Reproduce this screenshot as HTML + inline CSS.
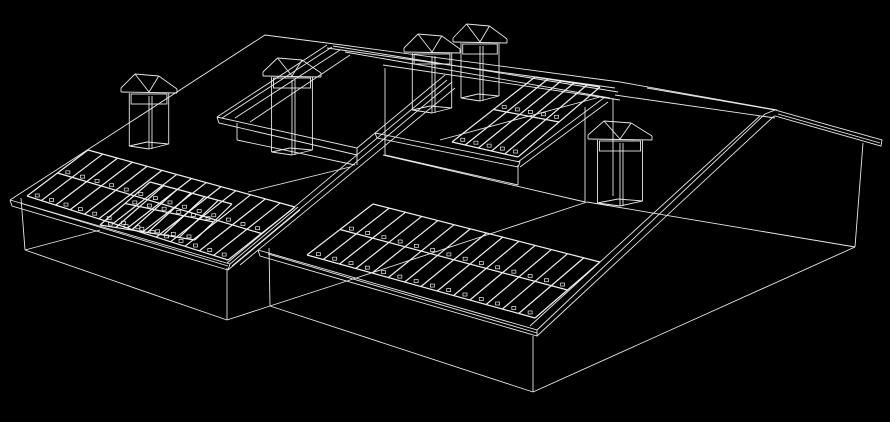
<!DOCTYPE html>
<html><head><meta charset="utf-8"><style>
html,body{margin:0;padding:0;background:#000;width:890px;height:422px;overflow:hidden}
svg{display:block}
</style></head><body>
<svg id="s" width="890" height="422" viewBox="0 0 890 422" xmlns="http://www.w3.org/2000/svg">
<rect width="890" height="422" fill="#000"/>
<g id="g" stroke="#e8e8e8" stroke-width="0.9" fill="none">
<!-- left building -->
<polyline points="10,200 265,35 327,43"/>
<polyline points="10,200 12,206 228,270 230,264 10,200"/>
<polyline points="230,264 298,207"/>
<polyline points="228,270 300,210"/>
<line x1="20" y1="203" x2="228" y2="266"/>
<line x1="21" y1="198" x2="25" y2="250"/>
<line x1="25" y1="250" x2="227" y2="320"/>
<line x1="227" y1="268" x2="227" y2="320"/>
<line x1="25" y1="250" x2="100" y2="230"/>
<line x1="248" y1="192" x2="350" y2="167"/>
<line x1="227" y1="320" x2="270" y2="306"/>
<!-- main building -->
<polyline points="258,250 260,256 537,336 537,330 258,250"/>
<line x1="268" y1="254" x2="537" y2="333"/>
<line x1="269" y1="248" x2="270" y2="306"/>
<line x1="270" y1="306" x2="533" y2="392"/>
<line x1="533" y1="336" x2="533" y2="392"/>
<line x1="533" y1="392" x2="855" y2="247"/>
<line x1="855" y1="247" x2="863" y2="143"/>
<line x1="537" y1="330" x2="765" y2="114"/>
<line x1="537" y1="336" x2="773" y2="117"/>
<line x1="530" y1="326" x2="760" y2="116"/>
<polyline points="765,114 775,110 882,140 881,146 775,116 773,117"/>
<line x1="778" y1="114" x2="880" y2="143"/>
<line x1="620" y1="82" x2="777" y2="110"/>
<line x1="647" y1="88" x2="775" y2="110"/>
<line x1="615" y1="95" x2="775" y2="118"/>
<line x1="587" y1="202" x2="855" y2="247"/>
<line x1="585" y1="107" x2="585" y2="202"/>
<line x1="613" y1="98" x2="613" y2="196"/>
<line x1="383" y1="155" x2="585" y2="202"/>
<line x1="350" y1="280" x2="587" y2="202"/>
<line x1="270" y1="306" x2="350" y2="280"/>
<!-- ridge lines -->
<line x1="327" y1="43" x2="620" y2="82"/>
<line x1="327" y1="48" x2="615" y2="88"/>
<line x1="333" y1="46" x2="618" y2="92"/>
<line x1="345" y1="52" x2="610" y2="98"/>
<!-- front upper block -->
<polyline points="217,117 219,123 357,155 357,148 217,117"/>
<line x1="217" y1="117" x2="327" y2="45"/>
<line x1="222" y1="118" x2="332" y2="47"/>
<line x1="235" y1="118" x2="340" y2="50"/>
<line x1="250" y1="122" x2="350" y2="55"/>
<line x1="237" y1="123" x2="237" y2="140"/>
<line x1="237" y1="140" x2="355" y2="165"/>
<line x1="357" y1="150" x2="357" y2="165"/>
<line x1="357" y1="148" x2="445" y2="75"/>
<!-- valley -->
<line x1="227" y1="263" x2="447" y2="80"/>
<line x1="232" y1="266" x2="452" y2="82"/>
<line x1="240" y1="265" x2="455" y2="88"/>
<!-- second block -->
<polyline points="375,133 377,138 518,167 520,162 375,133"/>
<line x1="385" y1="68" x2="385" y2="155"/>
<line x1="385" y1="155" x2="518" y2="185"/>
<line x1="518" y1="165" x2="518" y2="185"/>
<line x1="518" y1="162" x2="605" y2="97"/>
<line x1="520" y1="167" x2="608" y2="102"/>
<line x1="440" y1="140" x2="600" y2="97"/>
<line x1="383" y1="65" x2="620" y2="100"/>
</g>
<g id="p" stroke="#f0f0f0" stroke-width="1.2" fill="none"></g>
<g id="c" stroke="#e8e8e8" stroke-width="0.9" fill="none"></g>
</svg>
<script>
var NS="http://www.w3.org/2000/svg";
function L(g,a,b){var l=document.createElementNS(NS,"line");l.setAttribute("x1",a[0]);l.setAttribute("y1",a[1]);l.setAttribute("x2",b[0]);l.setAttribute("y2",b[1]);g.appendChild(l);}
function lerp(a,b,t){return [a[0]+(b[0]-a[0])*t,a[1]+(b[1]-a[1])*t];}
function panel(TL,TR,BR,BL,cols){
 var g=document.getElementById("p");
 L(g,TL,TR);L(g,TR,BR);L(g,BR,BL);L(g,BL,TL);
 L(g,lerp(TL,BL,.5),lerp(TR,BR,.5));
 for(var i=1;i<cols;i++){var t=i/cols;L(g,lerp(TL,TR,t),lerp(BL,BR,t));}
 for(var r=0;r<2;r++){for(var i=0;i<cols;i++){var t=(i+.5)/cols;var s=r==0?.45:.95;
  var p=lerp(lerp(TL,TR,t),lerp(BL,BR,t),s);var rc=document.createElementNS(NS,"rect");
  rc.setAttribute("x",p[0]-2);rc.setAttribute("y",p[1]-2);rc.setAttribute("width",4);rc.setAttribute("height",3);rc.setAttribute("stroke-width","0.7");g.appendChild(rc);}}
}
panel([88,150],[295,207],[228,260],[27,196],14);
panel([150,182],[232,204],[195,240],[100,225],6);
panel([373,204],[600,262],[535,318],[307,255],14);
panel([535,77],[600,87],[518,157],[452,142],5);
function chim(cx,cy,w,h){
 var g=document.getElementById("c");var hw=w/2;
 var pts=[[cx-hw,cy],[cx-hw*0.5,cy-14],[cx+hw*0.35,cy-12],[cx+hw,cy+1]];
 L(g,pts[0],pts[1]);L(g,pts[1],pts[2]);L(g,pts[2],pts[3]);
 L(g,[cx-hw,cy],[cx-hw,cy+4]);L(g,[cx-hw,cy+4],[cx+hw,cy+5]);L(g,[cx+hw,cy+1],[cx+hw,cy+5]);
 L(g,pts[1],[cx,cy+4]);L(g,pts[2],[cx,cy+4]);
 var sw=w*0.32;
 var r=document.createElementNS(NS,"rect");r.setAttribute("x",cx-sw);r.setAttribute("y",cy+6);r.setAttribute("width",sw*2);r.setAttribute("height",10);g.appendChild(r);
 L(g,[cx-sw*1.1,cy+5],[cx-sw*1.1,cy+h]);L(g,[cx+sw*1.1,cy+5],[cx+sw*1.1,cy+h-2]);
 L(g,[cx,cy+8],[cx,cy+h+3]);L(g,[cx+3,cy+8],[cx+3,cy+h+3]);
 L(g,[cx-sw*1.1,cy+h],[cx,cy+h+3]);L(g,[cx,cy+h+3],[cx+sw*1.1,cy+h-2]);
 L(g,[cx-sw*1.1,cy+h],[cx-2,cy+h-4]);L(g,[cx-2,cy+h-4],[cx+sw*1.1,cy+h-2]);
}
chim(149,88,56,58);
chim(292,72,58,80);
chim(432,48,56,62);
chim(480,38,54,60);
chim(620,135,64,68);
</script>
</body></html>
